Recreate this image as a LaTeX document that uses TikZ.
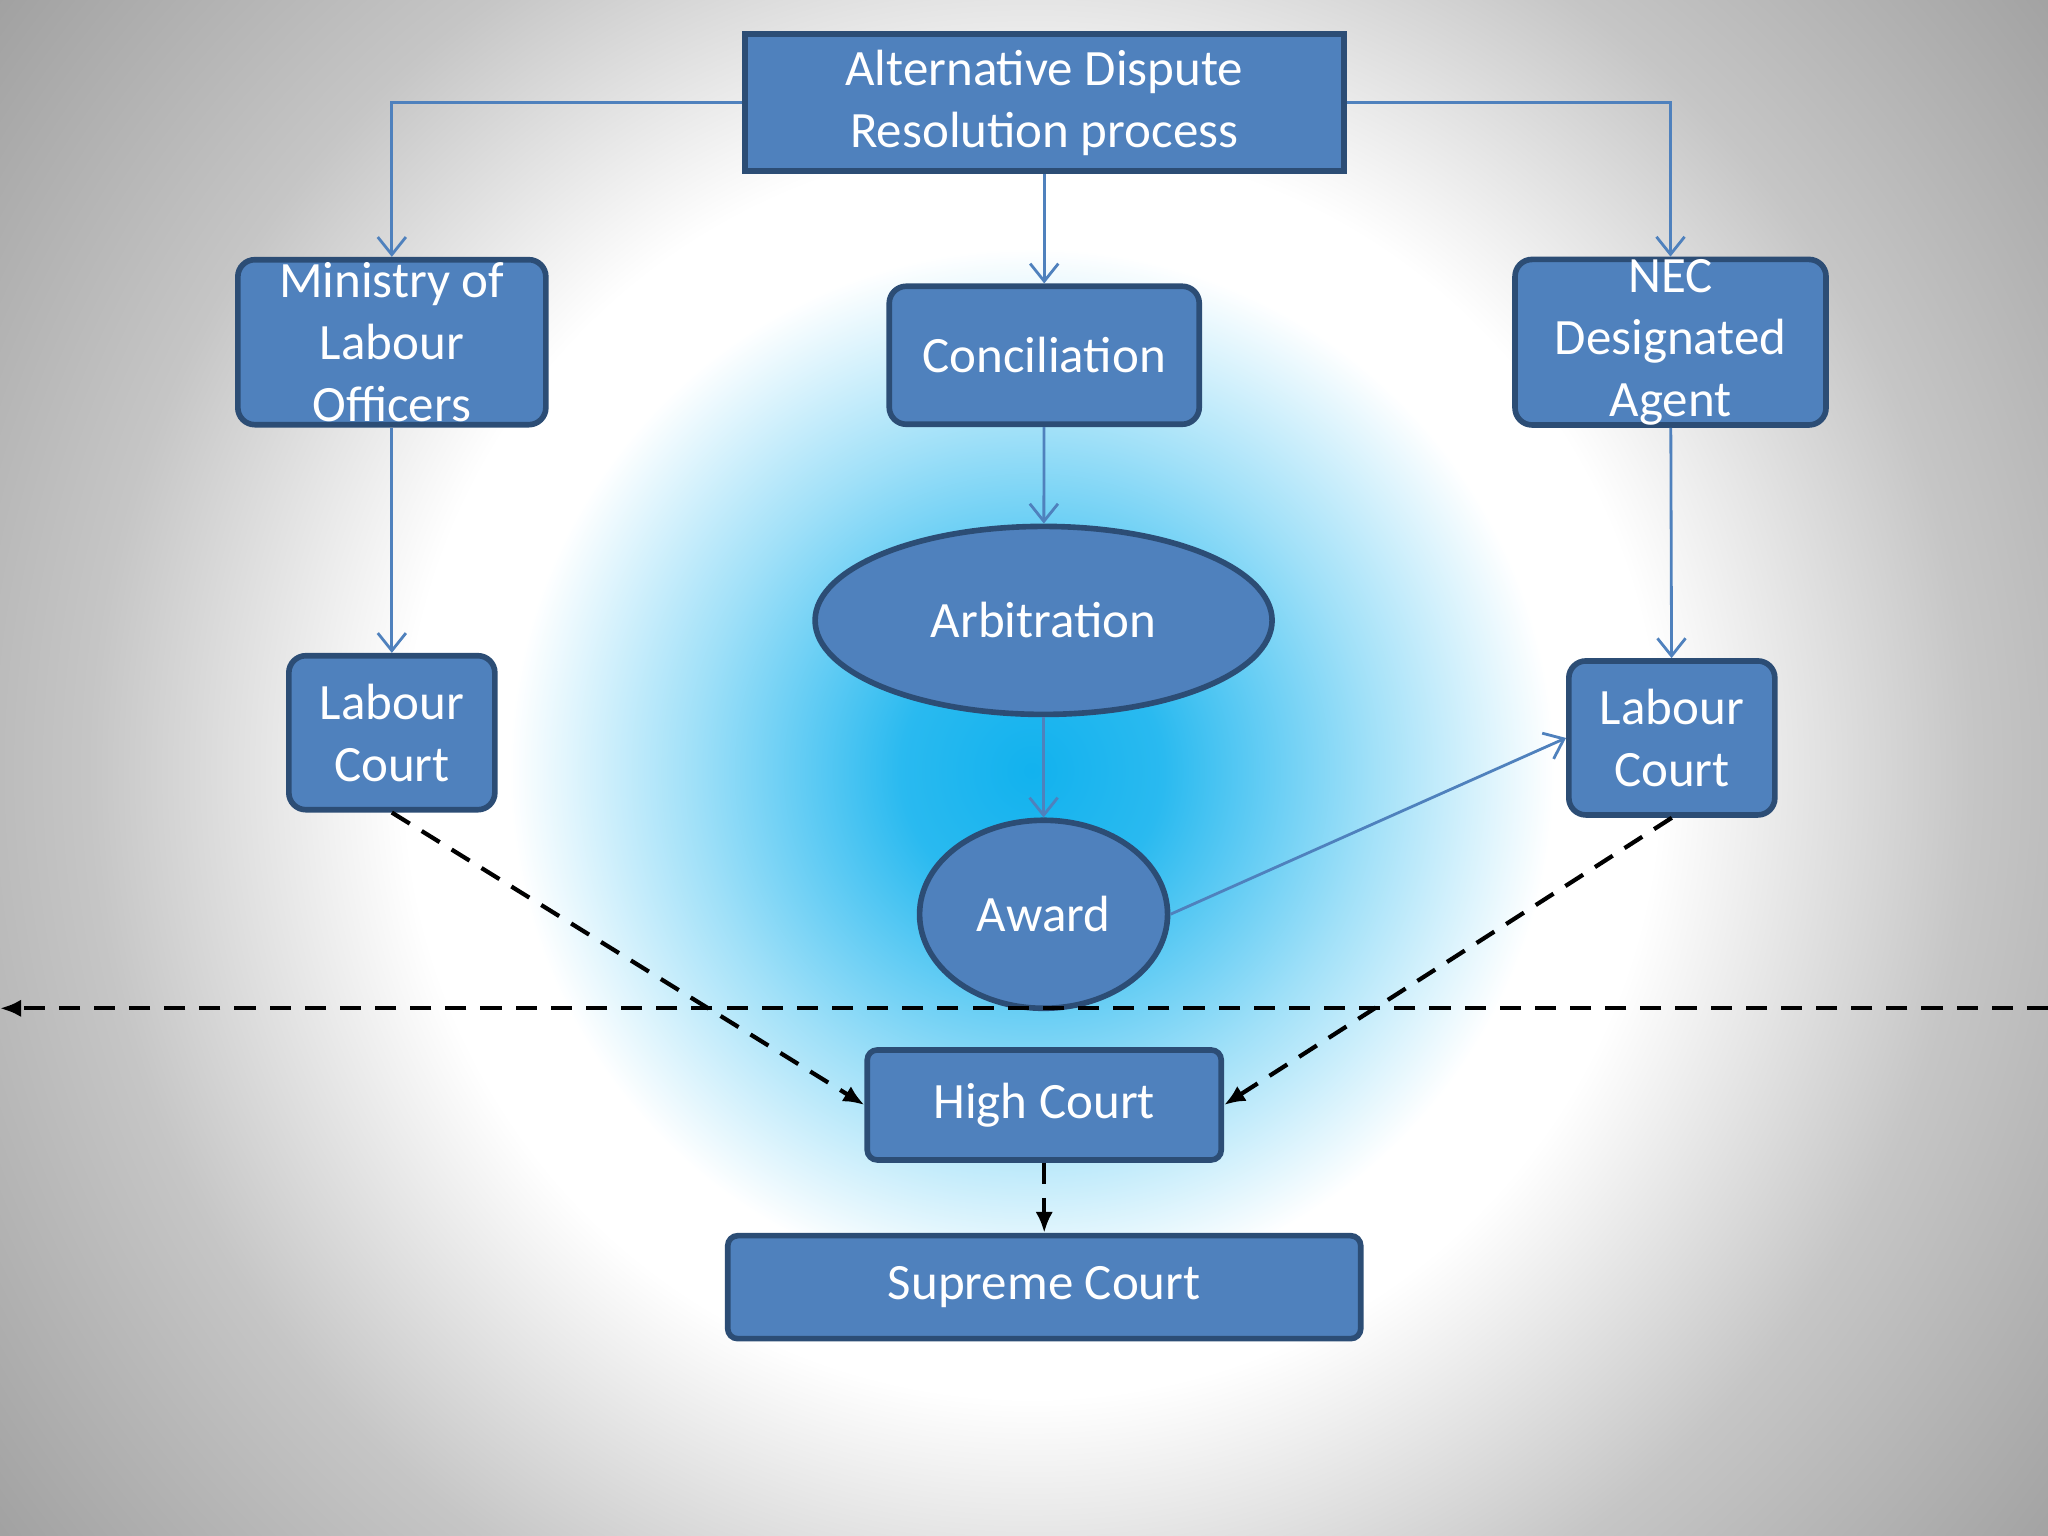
\documentclass[tikz,border=0pt]{standalone}
\usepackage{fontspec}
\setmainfont{Carlito}
\usetikzlibrary{arrows.meta,shapes.geometric}
\definecolor{boxfill}{HTML}{4F81BD}
\definecolor{boxline}{HTML}{2C4D75}
\definecolor{core}{HTML}{12B2EE}
\pgfdeclareradialshading{bgshade}{\pgfpoint{0bp}{0bp}}{color(0bp)=(core); color(2.5bp)=(core!90!white); color(6.5bp)=(core!40!white); color(10bp)=(white); color(12bp)=(white); color(18bp)=(gray!45); color(25bp)=(gray!75); color(50bp)=(gray!75)}
\begin{document}
\begin{tikzpicture}[x=0.01306cm,y=-0.01306cm,
 box/.style={draw=boxline,line width=1.6pt,fill=boxfill,text=white,inner sep=0pt,align=center,font=\fontsize{14.5}{17.6}\selectfont},
 rbox/.style={box,rounded corners=0.17cm},
 ell/.style={box,ellipse},
 link/.style={draw=boxfill,line width=0.8pt,-{Straight Barb[length=5pt,width=8pt]}},
 dlink/.style={draw=black,line width=1.2pt,dash pattern=on 6pt off 4pt,-{Latex[length=6pt,width=5pt]}}]
\useasboundingbox (0,0) rectangle (1568,1176);
\begin{scope}
\clip (0,0) rectangle (1568,1176);
\shade[shading=bgshade] (790,590) circle (1000);
\end{scope}
\node[box,minimum width=5.99cm,minimum height=1.37cm] (adr) at (799.5,78.5) {Alternative Dispute\\Resolution process};
\node[rbox,minimum width=3.08cm,minimum height=1.65cm] (mol) at (300,262) {Ministry of\\Labour\\Officers};
\node[rbox,minimum width=3.10cm,minimum height=1.38cm] (con) at (799.5,272) {Conciliation};
\node[rbox,minimum width=3.11cm,minimum height=1.65cm] (nec) at (1279,262) {NEC\\Designated\\Agent};
\node[ell,minimum width=4.57cm,minimum height=1.88cm] (arb) at (799,475) {Arbitration};
\node[rbox,minimum width=2.06cm,minimum height=1.54cm] (lcl) at (300,561) {Labour\\Court};
\node[rbox,minimum width=2.06cm,minimum height=1.54cm] (lcr) at (1280,565) {Labour\\Court};
\node[ell,minimum width=2.48cm,minimum height=1.88cm] (awd) at (799,700) {Award};
\node[rbox,rounded corners=0.1cm,minimum width=3.54cm,minimum height=1.10cm] (hc) at (799.5,846) {High Court};
\node[rbox,rounded corners=0.1cm,minimum width=6.33cm,minimum height=1.03cm] (sc) at (799.5,985.5) {Supreme Court};
\draw[link] (adr.west) -| (mol.north);
\draw[link] (adr.east) -| (nec.north);
\draw[link] (adr) -- (con);
\draw[link] (con) -- (arb);
\draw[link] (arb) -- (awd);
\draw[link] (mol) -- (lcl);
\draw[link] (nec) -- (lcr);
\draw[link] (awd.east) -- (lcr.west);
\coordinate (hr) at (1568,772);
\coordinate (hl) at (0,772);
\draw[dlink] (hr) -- (hl);
\draw[dlink] (lcl.south) -- (hc.west);
\draw[dlink] (lcr.south) -- (hc.east);
\draw[dlink] (hc) -- (sc);
\end{tikzpicture}
\end{document}
